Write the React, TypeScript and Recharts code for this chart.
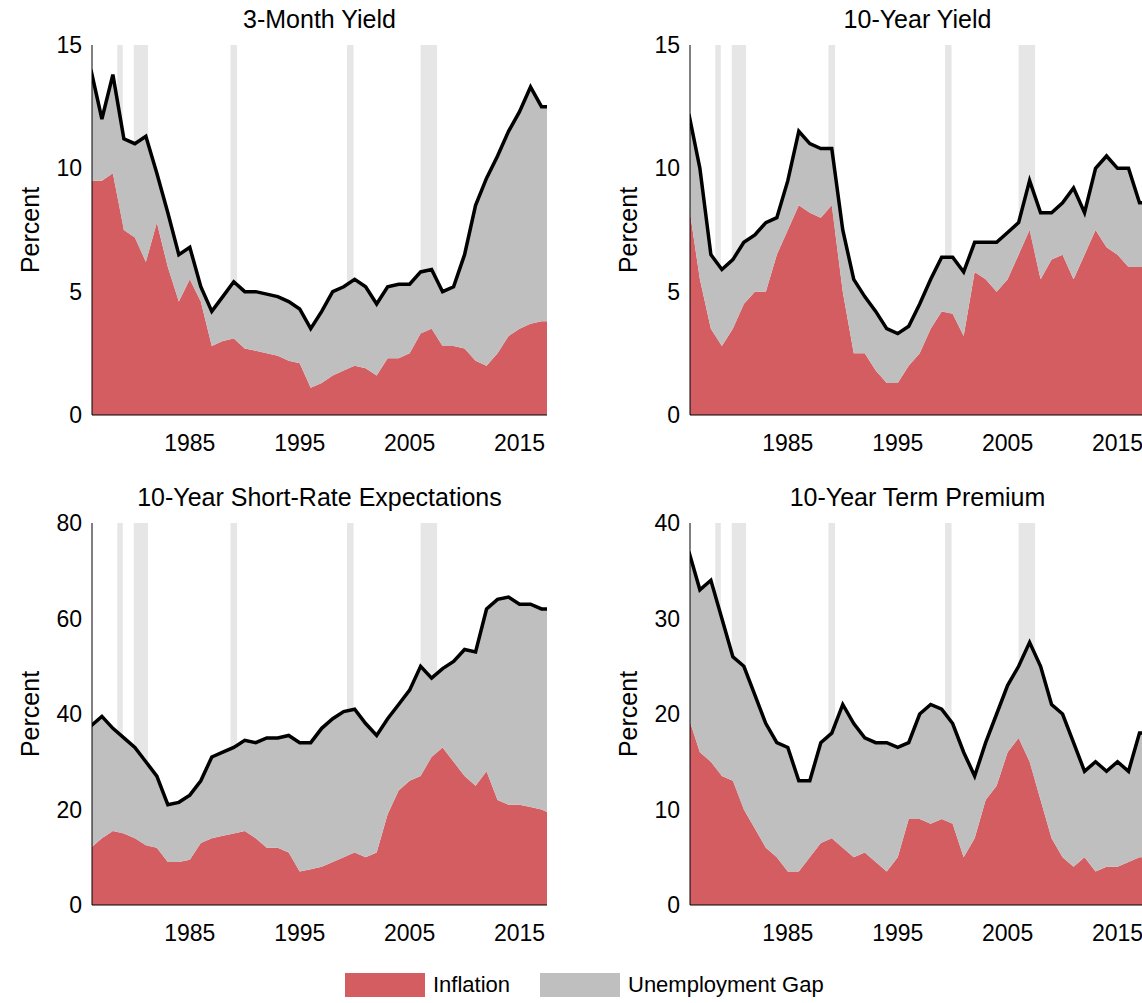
import React from "react";
import { ComposedChart, Area, Line, XAxis, YAxis, ReferenceArea } from "recharts";

const years = [1976,1977,1978,1979,1980,1981,1982,1983,1984,1985,1986,1987,1988,1989,1990,1991,1992,1993,1994,1995,1996,1997,1998,1999,2000,2001,2002,2003,2004,2005,2006,2007,2008,2009,2010,2011,2012,2013,2014,2015,2016,2017,2017.5];

const yield3mTotal = [14,12,13.8,11.2,11,11.3,9.8,8.2,6.5,6.8,5.2,4.2,4.8,5.4,5,5,4.9,4.8,4.6,4.3,3.5,4.2,5,5.2,5.5,5.2,4.5,5.2,5.3,5.3,5.8,5.9,5,5.2,6.5,8.5,9.6,10.5,11.5,12.3,13.3,12.5,12.5];
const yield3mInfl = [9.5,9.5,9.8,7.5,7.2,6.2,7.8,6,4.6,5.5,4.6,2.8,3,3.1,2.7,2.6,2.5,2.4,2.2,2.1,1.1,1.3,1.6,1.8,2,1.9,1.6,2.3,2.3,2.5,3.3,3.5,2.8,2.8,2.7,2.2,2,2.5,3.2,3.5,3.7,3.8,3.8];

const yield10Total = [12.2,10,6.5,5.9,6.3,7,7.3,7.8,8,9.5,11.5,11,10.8,10.8,7.5,5.5,4.8,4.2,3.5,3.3,3.6,4.5,5.5,6.4,6.4,5.8,7,7,7,7.4,7.8,9.5,8.2,8.2,8.6,9.2,8.2,10,10.5,10,10,8.6,8.6];
const yield10Infl = [8.5,5.5,3.5,2.8,3.5,4.5,5,5,6.5,7.5,8.5,8.2,8,8.5,5,2.5,2.5,1.8,1.3,1.3,2,2.5,3.5,4.2,4.1,3.2,5.8,5.5,5,5.5,6.5,7.5,5.5,6.3,6.5,5.5,6.5,7.5,6.8,6.5,6,6,6];

const expTotal = [37.5,39.5,37,35,33,30,27,21,21.5,23,26,31,32,33,34.5,34,35,35,35.5,34,34,37,39,40.5,41,38,35.5,39,42,45,50,47.5,49.5,51,53.5,53,62,64,64.5,63,63,62,62];
const expInfl = [12,14,15.5,15,14,12.5,12,9,9,9.5,13,14,14.5,15,15.5,14,12,12,11,7,7.5,8,9,10,11,10,11,19,24,26,27,31,33,30,27,25,28,22,21,21,20.5,20,19.5];

const tpTotal = [37,33,34,30,26,25,22,19,17,16.5,13,13,17,18,21,19,17.5,17,17,16.5,17,20,21,20.5,19,16,13.5,17,20,23,25,27.5,25,21,20,17,14,15,14,15,14,18,18];
const tpInfl = [19.5,16,15,13.5,13,10,8,6,5,3.5,3.5,5,6.5,7,6,5,5.5,4.5,3.5,5,9,9,8.5,9,8.5,5,7,11,12.5,16,17.5,15,11,7,5,4,5,3.5,4,4,4.5,5,5];

const recessions = [[1978.4,1978.9],[1979.9,1981.2],[1988.7,1989.3],[1999.3,1999.9],[2006.0,2007.5]];
const xTicks = [1985,1995,2005,2015];

const RED = "#d45d61";
const GRAY = "#bfbfbf";
const BAND = "#e6e6e6";
const FONT = "'Liberation Sans', Arial, sans-serif";

function rows(total: number[], infl: number[]) {
  return years.map((x, i) => ({ x, inf: infl[i], gap: total[i] - infl[i], total: total[i] }));
}

function Panel({ title, total, infl, yMax, yTicks, left, top, height }: any) {
  const data = rows(total, infl);
  const tickStyle = { fontSize: 23, fill: "#000", fontFamily: FONT };
  return (
    <div style={{ position: "absolute", left, top }}>
      <div style={{ position: "absolute", left: 92, width: 455, top: 5, textAlign: "center", fontSize: 25, fontFamily: FONT }}>{title}</div>
      <ComposedChart width={560} height={height} data={data} margin={{ top: 45, right: 13, left: 0, bottom: 0 }}>
        {recessions.map(([a, b], i) => (
          <ReferenceArea key={i} x1={a} x2={b} y1={0} y2={yMax} fill={BAND} fillOpacity={1} stroke="none" ifOverflow="hidden" />
        ))}
        <XAxis dataKey="x" type="number" domain={[1976.1, 2017.5]} allowDataOverflow ticks={xTicks} tick={tickStyle} tickLine={false} axisLine={{ stroke: "#000" }} height={65} tickMargin={14} />
        <XAxis xAxisId="top" orientation="top" dataKey="x" type="number" domain={[1976.1, 2017.5]} allowDataOverflow tick={false} tickLine={false} axisLine={{ stroke: "#000" }} height={0} />
        <YAxis domain={[0, yMax]} ticks={yTicks} tick={tickStyle} tickLine={false} axisLine={{ stroke: "#000" }} width={92} tickMargin={4}
          label={{ value: "Percent", angle: -90, position: "insideLeft", offset: 30, style: { fontSize: 25, fill: "#000", fontFamily: FONT, textAnchor: "middle" } }} />
        <YAxis yAxisId="r" orientation="right" domain={[0, yMax]} tick={false} tickLine={false} axisLine={{ stroke: "#000" }} width={0} />
        <Area type="linear" dataKey="inf" stackId="a" fill={RED} fillOpacity={1} stroke="none" isAnimationActive={false} />
        <Area type="linear" dataKey="gap" stackId="a" fill={GRAY} fillOpacity={1} stroke="none" isAnimationActive={false} />
        <Line type="linear" dataKey="total" stroke="#000" strokeWidth={3.5} dot={false} isAnimationActive={false} />
      </ComposedChart>
    </div>
  );
}

export default function App() {
  return (
    <div style={{ position: "absolute", left: 0, top: 0, width: 1142, height: 1003, overflow: "hidden", background: "#fff", fontFamily: FONT }}>
      <Panel title="3-Month Yield" total={yield3mTotal} infl={yield3mInfl} yMax={15} yTicks={[0,5,10,15]} left={0} top={0} height={480} />
      <Panel title="10-Year Yield" total={yield10Total} infl={yield10Infl} yMax={15} yTicks={[0,5,10,15]} left={598} top={0} height={480} />
      <Panel title="10-Year Short-Rate Expectations" total={expTotal} infl={expInfl} yMax={80} yTicks={[0,20,40,60,80]} left={0} top={478} height={492} />
      <Panel title="10-Year Term Premium" total={tpTotal} infl={tpInfl} yMax={40} yTicks={[0,10,20,30,40]} left={598} top={478} height={492} />
      <div style={{ position: "absolute", left: 345, top: 973, width: 80, height: 24, background: RED }} />
      <div style={{ position: "absolute", left: 433, top: 972, fontSize: 22 }}>Inflation</div>
      <div style={{ position: "absolute", left: 540, top: 973, width: 80, height: 24, background: GRAY }} />
      <div style={{ position: "absolute", left: 628, top: 972, fontSize: 22 }}>Unemployment Gap</div>
    </div>
  );
}
